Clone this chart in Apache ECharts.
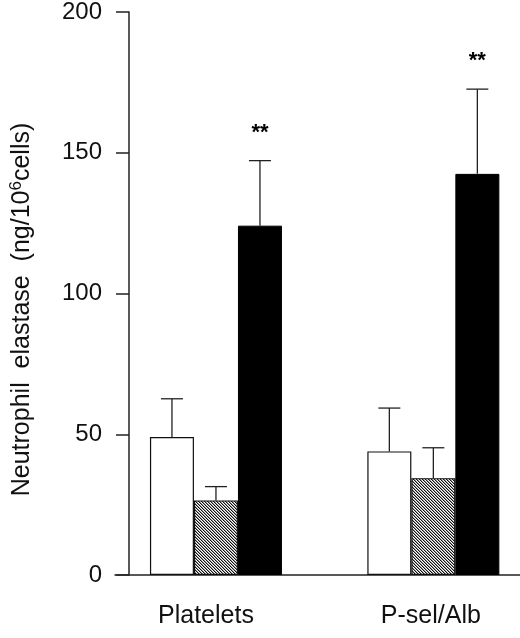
<!DOCTYPE html>
<html>
<head>
<meta charset="utf-8">
<script src="https://cdn.jsdelivr.net/npm/echarts@6/dist/echarts.min.js"></script>
<style>
html,body{margin:0;padding:0;background:#fff;}
#chart{width:520px;height:638px;}
</style>
</head>
<body>
<div id="chart"></div>
<script>
// ---- data ----
const categories = ['Platelets', 'P-sel/Alb'];
const seriesNames = ['Control', 'Treatment A', 'Treatment B'];
const whiteValues = [49.0, 43.9];
const whiteErrors = [13.6, 15.4];
const hatchValues = [26.5, 34.4];
const hatchErrors = [4.9, 10.8];
const blackValues = [124.1, 142.5];
const blackErrors = [23.1, 30.1];
const blackSignificance = ['**', '**'];
const yTicks = [0, 50, 100, 150, 200];

// ---- style ----
const FONT = 'Liberation Sans, Arial, sans-serif';
const BAR_W = 44;
const CAP_W = 22;

function hatchPattern() {
  const c = document.createElement('canvas');
  c.width = 6; c.height = 6;
  const ctx = c.getContext('2d');
  ctx.fillStyle = '#ffffff';
  ctx.fillRect(0, 0, 6, 6);
  for (let i = 0; i < 6; i++) {
    for (let j = 0; j < 6; j++) {
      const m = ((i - j) % 3 + 3) % 3;
      if (m === 0) {
        ctx.fillStyle = '#111';
        ctx.fillRect(i, j, 1, 1);
      } else if (m === 1) {
        ctx.fillStyle = '#999';
        ctx.fillRect(i, j, 1, 1);
      }
    }
  }
  return c;
}

const groupX = categories.map((c, i) => i + 1);
const toPairs = vals => vals.map((v, i) => [groupX[i], v]);

const errData = [];
[[whiteValues, whiteErrors], [hatchValues, hatchErrors], [blackValues, blackErrors]].forEach((pair, k) => {
  pair[0].forEach((v, i) => errData.push([groupX[i], v, pair[1][i], k]));
});
const sigData = blackValues.map((v, i) => [groupX[i], v + blackErrors[i]]);

const chart = echarts.init(document.getElementById('chart'), null, {renderer: 'canvas'});
const option = {
  animation: false,
  backgroundColor: '#fff',
  grid: {left: 112, right: 0, top: 11, bottom: 63, containLabel: false},
  xAxis: {
    type: 'value',
    min: 0.5356,
    max: 2.3986,
    splitLine: {show: false},
    axisTick: {show: false},
    axisLine: {show: true, lineStyle: {color: '#222', width: 1.5}},
    axisLabel: {
      customValues: groupX,
      formatter: v => {
        const i = Math.round(v) - 1;
        return categories[i] ? '{c' + i + '|' + categories[i] + '}' : '';
      },
      color: '#111', fontSize: 25, fontFamily: FONT, margin: 29,
      rich: {
        c0: {fontSize: 25, fontFamily: FONT, color: '#111', padding: [0, 20, 0, 0]},
        c1: {fontSize: 25, fontFamily: FONT, color: '#111', padding: [0, 5, 0, 0]}
      }
    }
  },
  yAxis: {
    type: 'value',
    min: 0, max: 200, interval: 50,
    offset: -14,
    splitLine: {show: false},
    axisLine: {show: true, onZero: false, lineStyle: {color: '#222', width: 1.5}},
    axisTick: {show: true, inside: false, length: 13, lineStyle: {color: '#222', width: 1.5}},
    axisLabel: {color: '#111', fontSize: 24, fontFamily: FONT, margin: 27,
      customValues: yTicks},
    name: 'Neutrophil  elastase  (ng/10{sup|6}cells)',
    nameLocation: 'middle',
    nameRotate: 90,
    nameGap: 92,
    nameTextStyle: {
      color: '#111', fontSize: 25, fontFamily: FONT,
      padding: [0, 32, 0, 0],
      rich: {sup: {fontSize: 17, fontFamily: FONT, color: '#111', padding: [0, 0, 12, 0]}}
    }
  },
  series: [
    {
      name: seriesNames[0], type: 'bar', barWidth: BAR_W, barGap: '0%',
      data: toPairs(whiteValues),
      itemStyle: {color: '#ffffff', borderColor: '#111', borderWidth: 1.2}
    },
    {
      name: seriesNames[1], type: 'bar', barWidth: BAR_W, barGap: '0%',
      data: toPairs(hatchValues),
      itemStyle: {color: {image: hatchPattern(), repeat: 'repeat'}, borderColor: '#111', borderWidth: 1.2}
    },
    {
      name: seriesNames[2], type: 'bar', barWidth: BAR_W, barGap: '0%',
      data: toPairs(blackValues),
      itemStyle: {color: '#000', borderColor: '#000', borderWidth: 1}
    },
    {
      type: 'custom',
      data: errData,
      encode: {x: 0, y: 1},
      z: 5,
      renderItem: function (params, api) {
        const x = api.value(0), v = api.value(1), e = api.value(2), k = api.value(3);
        const p0 = api.coord([x, v]);
        const p1 = api.coord([x, v + e]);
        const cx = p0[0] + (k - 1) * BAR_W;
        const st = {stroke: '#222', lineWidth: 1.3};
        return {
          type: 'group',
          children: [
            {type: 'line', shape: {x1: cx, y1: p0[1], x2: cx, y2: p1[1]}, style: st},
            {type: 'line', shape: {x1: cx - CAP_W / 2, y1: p1[1], x2: cx + CAP_W / 2, y2: p1[1]}, style: st}
          ]
        };
      }
    },
    {
      type: 'custom',
      data: sigData,
      encode: {x: 0, y: 1},
      z: 6,
      renderItem: function (params, api) {
        const p = api.coord([api.value(0), api.value(1)]);
        const cx = p[0] + BAR_W;
        return {
          type: 'text',
          style: {
            text: blackSignificance[params.dataIndex],
            x: cx, y: p[1] - 28,
            align: 'center', verticalAlign: 'middle',
            font: 'bold 22px ' + FONT, fill: '#000'
          }
        };
      }
    }
  ]
};
chart.setOption(option);
</script>
</body>
</html>
